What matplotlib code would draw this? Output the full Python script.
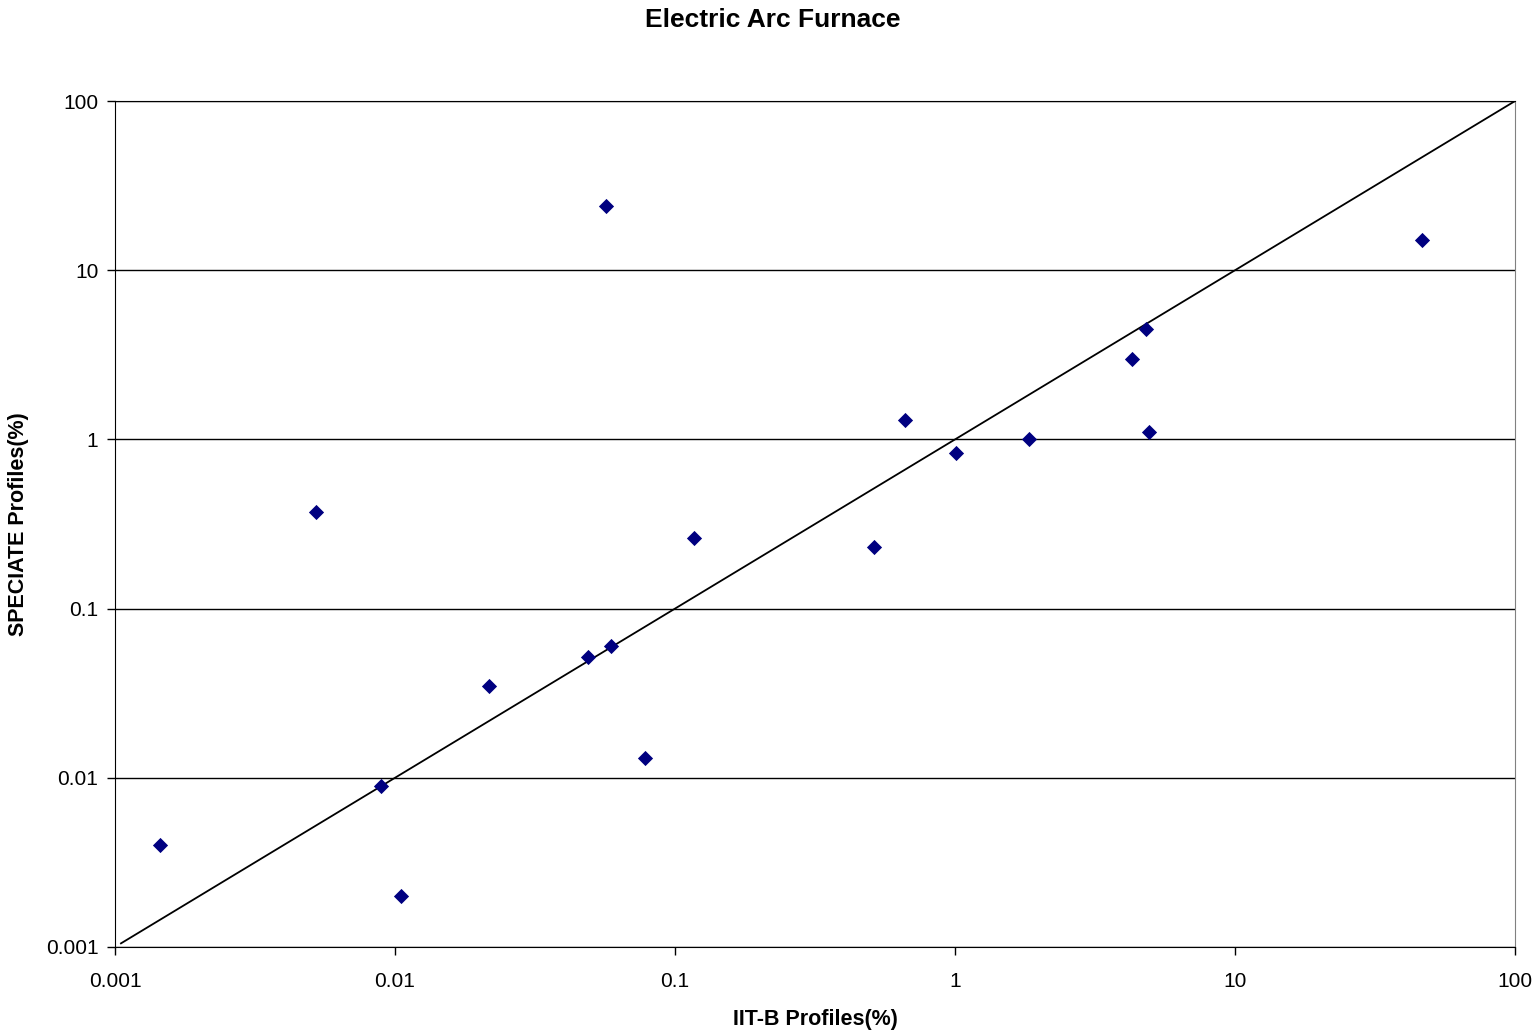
import matplotlib.pyplot as plt
from matplotlib.ticker import FixedLocator, FixedFormatter, NullLocator

plt.rcParams['font.family'] = ['Liberation Sans', 'DejaVu Sans']

# IIT-B vs SPECIATE species profiles (%)
iitb = [0.00145, 0.00523, 0.0089, 0.0105, 0.0217, 0.0489, 0.0568, 0.059, 0.0782,
        0.117, 0.514, 0.662, 1.01, 1.84, 4.29, 4.81, 4.93, 46.5]
speciate = [0.004, 0.37, 0.009, 0.002, 0.035, 0.052, 24, 0.06, 0.013,
            0.26, 0.23, 1.3, 0.83, 1.0, 3.0, 4.5, 1.1, 15]

decades = [0.001, 0.01, 0.1, 1, 10, 100]
decade_labels = ['0.001', '0.01', '0.1', '1', '10', '100']

fig = plt.figure(figsize=(15.4, 10.33), dpi=100)
ax = fig.add_axes([0.0747, 0.0833, 0.9091, 0.8189])

ax.set_xscale('log')
ax.set_yscale('log')
ax.set_xlim(0.001, 100)
ax.set_ylim(0.001, 100)

# 1:1 line
ax.plot([0.00105, 100], [0.00105, 100], color='black', lw=1.3, zorder=2)
ax.scatter(iitb, speciate, marker='D', s=60, color='#000080', zorder=3, linewidths=0)

for axis in (ax.xaxis, ax.yaxis):
    axis.set_major_locator(FixedLocator(decades))
    axis.set_major_formatter(FixedFormatter(decade_labels))
    axis.set_minor_locator(NullLocator())

ax.grid(axis='y', color='black', lw=1)
ax.tick_params(direction='out', length=6, width=1, labelsize=15)
ax.tick_params(axis='x', pad=12)
ax.tick_params(axis='y', pad=6)
for side in ('left', 'bottom', 'top'):
    ax.spines[side].set_color('black')
ax.spines['right'].set_color('#808080')

fig.text(0.502, 1 - 20 / 1033, 'Electric Arc Furnace', fontsize=19, fontweight='bold',
         ha='center', va='center')
ax.set_xlabel('IIT-B Profiles(%)', fontsize=15.5, fontweight='bold', labelpad=13)
ax.set_ylabel('SPECIATE Profiles(%)', fontsize=15.5, fontweight='bold', labelpad=12)

fig.savefig('out.png', dpi=100)
